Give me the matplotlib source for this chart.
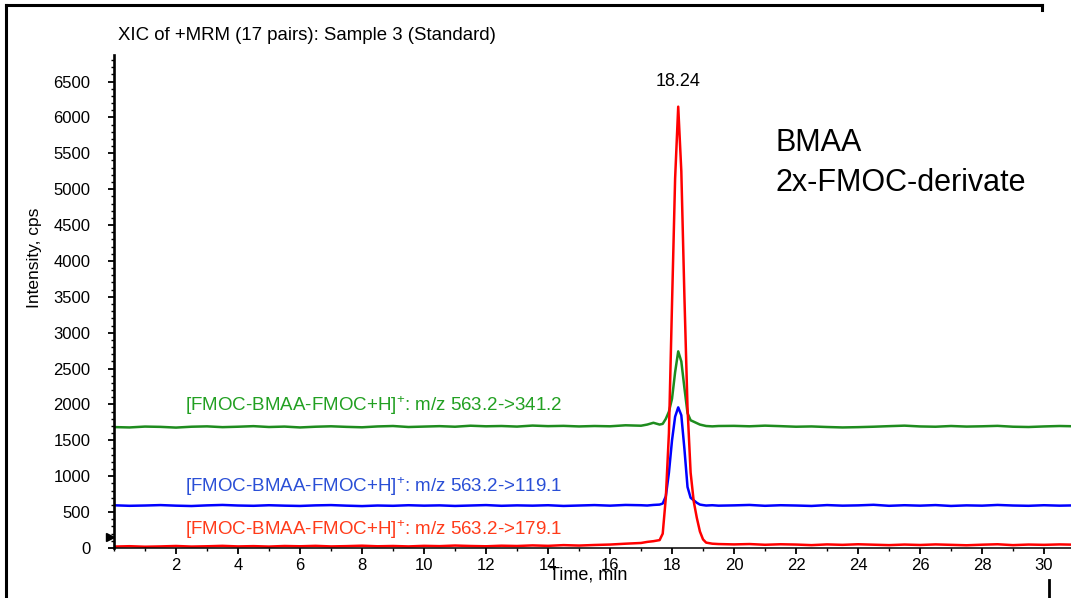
import matplotlib
matplotlib.use("Agg")
import matplotlib.pyplot as plt
from matplotlib.lines import Line2D
from matplotlib.ticker import MultipleLocator

plt.rcParams['font.family'] = ['Liberation Sans', 'DejaVu Sans']
plt.rcParams['mathtext.fontset'] = 'custom'
plt.rcParams['mathtext.rm'] = 'Liberation Sans'
plt.rcParams['mathtext.default'] = 'regular'

# retention time grid (min)
time_min = [0.0, 0.5, 1.0, 1.5, 2.0, 2.5, 3.0, 3.5, 4.0, 4.5, 5.0, 5.5, 6.0, 6.5,
            7.0, 7.5, 8.0, 8.5, 9.0, 9.5, 10.0, 10.5, 11.0, 11.5, 12.0, 12.5,
            13.0, 13.5, 14.0, 14.5, 15.0, 15.5, 16.0, 16.5, 17.0,
            17.2, 17.4, 17.6, 17.7, 17.8, 17.9, 18.0, 18.1, 18.2, 18.3, 18.4,
            18.5, 18.6, 18.7, 18.8, 18.9, 19.0, 19.1, 19.3, 19.5,
            20.0, 20.5, 21.0, 21.5, 22.0, 22.5, 23.0, 23.5, 24.0, 24.5, 25.0,
            25.5, 26.0, 26.5, 27.0, 27.5, 28.0, 28.5, 29.0, 29.5, 30.0, 30.5, 31.0]

# intensities (cps)
red_179 = [20, 25, 18, 22, 28, 20, 24, 30, 22, 26, 20, 28, 24, 30, 22, 26, 32, 24,
           28, 22, 30, 26, 34, 28, 24, 32, 28, 36, 30, 40, 34, 42, 48, 60, 70,
           85, 95, 110, 200, 700, 1600, 3400, 5150, 6150, 5250, 3500, 1950, 1050,
           650, 420, 230, 120, 75, 60, 55,
           50, 55, 45, 52, 48, 40, 50, 44, 52, 46, 40, 48, 42, 50, 44, 38, 46, 52,
           40, 48, 44, 50, 46]
green_341 = [1685, 1680, 1692, 1688, 1678, 1690, 1695, 1684, 1690, 1698, 1686, 1692,
             1680, 1690, 1696, 1688, 1682, 1694, 1700, 1686, 1692, 1698, 1690, 1704,
             1696, 1700, 1692, 1706, 1698, 1702, 1694, 1700, 1696, 1710, 1704,
             1720, 1745, 1720, 1730, 1800, 1900, 2080, 2450, 2740, 2600, 2230, 1880,
             1780, 1760, 1740, 1720, 1710, 1700, 1695, 1700,
             1702, 1696, 1705, 1698, 1690, 1694, 1686, 1680, 1684, 1690, 1698, 1705,
             1694, 1690, 1700, 1692, 1696, 1702, 1690, 1686, 1694, 1700, 1696]
blue_119 = [595, 588, 592, 598, 590, 585, 594, 600, 592, 588, 596, 590, 586, 594,
            598, 590, 584, 592, 588, 596, 590, 594, 586, 592, 598, 588, 594, 590,
            596, 586, 592, 598, 590, 600, 596,
            592, 600, 605, 620, 720, 1050, 1500, 1830, 1960, 1850, 1380, 850, 700,
            665, 630, 605, 598, 592, 596, 590,
            594, 600, 588, 596, 592, 586, 598, 590, 594, 602, 588, 596, 590, 598,
            586, 594, 590, 600, 592, 588, 596, 590, 594]

trace_labels = ['[FMOC-BMAA-FMOC+H]$^{+}$: m/z 563.2->341.2',
                '[FMOC-BMAA-FMOC+H]$^{+}$: m/z 563.2->119.1',
                '[FMOC-BMAA-FMOC+H]$^{+}$: m/z 563.2->179.1']
label_y = [1980, 850, 250]
label_colors = ['#22a022', '#2a4fd6', '#ff3b1a']

fig = plt.figure(figsize=(10.71, 5.98), dpi=100)
ax = fig.add_axes([114 / 1071, 50 / 598, 1 - 114 / 1071, 493 / 598])

ax.plot(time_min, green_341, color='#1e8c1e', lw=1.8)
ax.plot(time_min, blue_119, color='#0000ff', lw=1.8)
ax.plot(time_min, red_179, color='#ff0000', lw=1.8)

for txt, yy, c in zip(trace_labels, label_y, label_colors):
    ax.text(2.29, yy, txt, color=c, fontsize=13.5, va='center', ha='left')

ax.text(18.2, 6500, '18.24', fontsize=13, ha='center', va='center')
ax.text(21.35, 5640, 'BMAA', fontsize=22, ha='left', va='center')
ax.text(21.35, 5084, '2x-FMOC-derivate', fontsize=22, ha='left', va='center')

ax.set_xlim(0, 30.87)
ax.set_ylim(0, 6870)
ax.set_xticks([2, 4, 6, 8, 10, 12, 14, 16, 18, 20, 22, 24, 26, 28, 30])
ax.xaxis.set_minor_locator(MultipleLocator(1))
ax.set_yticks([0, 500, 1000, 1500, 2000, 2500, 3000, 3500, 4000, 4500, 5000,
               5500, 6000, 6500])
ax.yaxis.set_minor_locator(MultipleLocator(100))
ax.tick_params(axis='both', which='major', labelsize=12, length=4, width=1.3,
               direction='out')
ax.tick_params(axis='both', which='minor', length=2, width=1.0, direction='out')
ax.tick_params(axis='y', pad=13)

for s in ['top', 'right']:
    ax.spines[s].set_visible(False)
ax.spines['left'].set_linewidth(1.9)
ax.spines['bottom'].set_linewidth(1.1)

ax.plot([-0.12], [150], marker='>', ms=6, color='k', clip_on=False)

fig.text(35 / 1071, 1 - 258 / 598, 'Intensity, cps', fontsize=12.5, rotation=90,
         ha='center', va='center')
fig.text(588 / 1071, 1 - 575 / 598, 'Time, min', fontsize=13, ha='center', va='center')
fig.text(118 / 1071, 1 - 35 / 598, 'XIC of +MRM (17 pairs): Sample 3 (Standard)',
         fontsize=13.4, ha='left', va='center')

# outer window frame
fig.add_artist(Line2D([6 / 1071, 6 / 1071], [0, 1 - 5 / 598], color='k', lw=2.2,
                      transform=fig.transFigure))
fig.add_artist(Line2D([6 / 1071, 1042 / 1071], [1 - 5 / 598, 1 - 5 / 598], color='k',
                      lw=2.2, transform=fig.transFigure))
fig.add_artist(Line2D([1042 / 1071, 1042 / 1071], [1 - 5 / 598, 1 - 10 / 598],
                      color='k', lw=2.2, transform=fig.transFigure))
fig.add_artist(Line2D([1049 / 1071, 1049 / 1071], [0, 18 / 598], color='k', lw=2.0,
                      transform=fig.transFigure))

fig.savefig('out.png', dpi=100)
